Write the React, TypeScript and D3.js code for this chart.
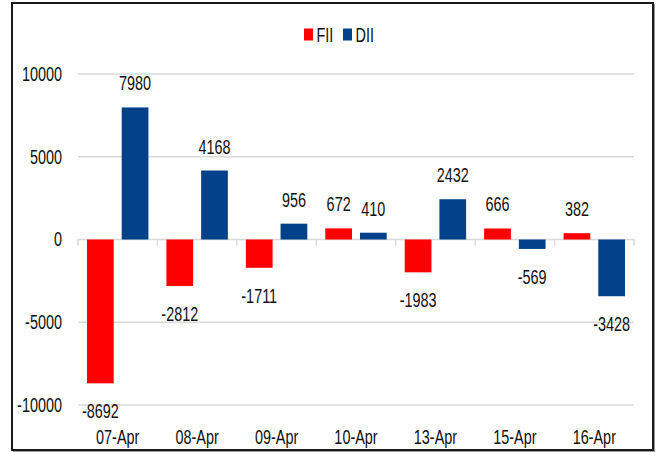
import { useEffect, useRef } from 'react'
import * as d3 from 'd3'

const categories = ['07-Apr', '08-Apr', '09-Apr', '10-Apr', '13-Apr', '15-Apr', '16-Apr']
const seriesNames = ['FII', 'DII']
const fii = [-8692, -2812, -1711, 672, -1983, 666, 382]
const dii = [7980, 4168, 956, 410, 2432, -569, -3428]
const yTicks = [-10000, -5000, 0, 5000, 10000]
const colors = ['#ff0000', '#01418a']

const W = 656
const H = 452
const FONT = '"Liberation Sans", Arial, sans-serif'
const FS = 19.5
const SX = 0.74 // horizontal squeeze to mimic a narrow office font

const App = () => {
  const ref = useRef<SVGSVGElement>(null)

  useEffect(() => {
    const svg = d3.select(ref.current)
    svg.selectAll('*').remove()

    const label = (g: any, fx: (d: any) => number, fy: (d: any) => number) =>
      g.attr('transform', (d: any) => `translate(${fx(d)},${fy(d)}) scale(${SX},1)`)
        .attr('font-family', FONT)
        .attr('font-size', FS)
        .attr('fill', '#111')

    // outer frame (dark line with a faint grey shadow)
    svg.append('rect')
      .attr('x', 13.5).attr('y', 4.5)
      .attr('width', 641).attr('height', 447)
      .attr('fill', 'none')
      .attr('stroke', '#9a9a9a')
      .attr('stroke-width', 1)
    svg.append('rect')
      .attr('x', 12).attr('y', 3)
      .attr('width', 641).attr('height', 447)
      .attr('fill', '#fff')
      .attr('stroke', '#1a1a1a')
      .attr('stroke-width', 2)

    const x0 = d3.scaleBand<string>().domain(categories).range([78, 634])
    const x1 = d3.scaleBand<string>()
      .domain(seriesNames)
      .range([9, x0.bandwidth() - 9])
      .paddingInner(0.23)
    const y = d3.scaleLinear().domain([-10000, 10000]).range([405, 74])

    // gridlines
    svg.append('g')
      .selectAll('line')
      .data(yTicks)
      .join('line')
      .attr('x1', 78).attr('x2', 634)
      .attr('y1', (d) => y(d)).attr('y2', (d) => y(d))
      .attr('stroke', '#d9d9d9')
      .attr('stroke-width', 1.5)

    // category boundary ticks on zero line
    svg.append('g')
      .selectAll('line')
      .data(d3.range(categories.length + 1))
      .join('line')
      .attr('x1', (i) => 78 + i * x0.step())
      .attr('x2', (i) => 78 + i * x0.step())
      .attr('y1', y(0)).attr('y2', y(0) + 6)
      .attr('stroke', '#d9d9d9')
      .attr('stroke-width', 1.5)

    // y labels
    label(
      svg.append('g').selectAll('text').data(yTicks).join('text'),
      () => 62,
      (d) => y(d)
    )
      .attr('dy', '0.35em')
      .attr('text-anchor', 'end')
      .text((d: number) => d)

    // x labels
    label(
      svg.append('g').selectAll('text').data(categories).join('text'),
      (d) => x0(d)! + x0.bandwidth() / 2,
      () => 443.5
    )
      .attr('text-anchor', 'middle')
      .text((d: string) => d)

    const rows = categories.flatMap((c, i) => [
      { cat: c, key: 'FII', value: fii[i], color: colors[0] },
      { cat: c, key: 'DII', value: dii[i], color: colors[1] }
    ])

    svg.append('g')
      .selectAll('rect')
      .data(rows)
      .join('rect')
      .attr('x', (d) => x0(d.cat)! + x1(d.key)!)
      .attr('width', x1.bandwidth())
      .attr('y', (d) => y(Math.max(0, d.value)))
      .attr('height', (d) => Math.abs(y(d.value) - y(0)))
      .attr('fill', (d) => d.color)

    label(
      svg.append('g').selectAll('text').data(rows).join('text'),
      (d) => x0(d.cat)! + x1(d.key)! + x1.bandwidth() / 2,
      (d) => (d.value >= 0 ? y(d.value) - 17 : y(d.value) + 35)
    )
      .attr('text-anchor', 'middle')
      .text((d: any) => d.value)

    // legend
    const items = [
      { name: 'FII', x: 304, color: colors[0] },
      { name: 'DII', x: 343, color: colors[1] }
    ]
    const legend = svg.append('g')
    legend.selectAll('rect')
      .data(items)
      .join('rect')
      .attr('x', (d) => d.x).attr('y', 28.5)
      .attr('width', 9).attr('height', 12)
      .attr('fill', (d) => d.color)
    label(
      legend.selectAll('text').data(items).join('text'),
      (d) => d.x + 12.5,
      () => 41.5
    ).text((d: any) => d.name)
  }, [])

  return (
    <svg
      ref={ref}
      width={W}
      height={H}
      style={{ position: 'absolute', left: 0, top: 0, background: '#fff' }}
    />
  )
}

export default App
